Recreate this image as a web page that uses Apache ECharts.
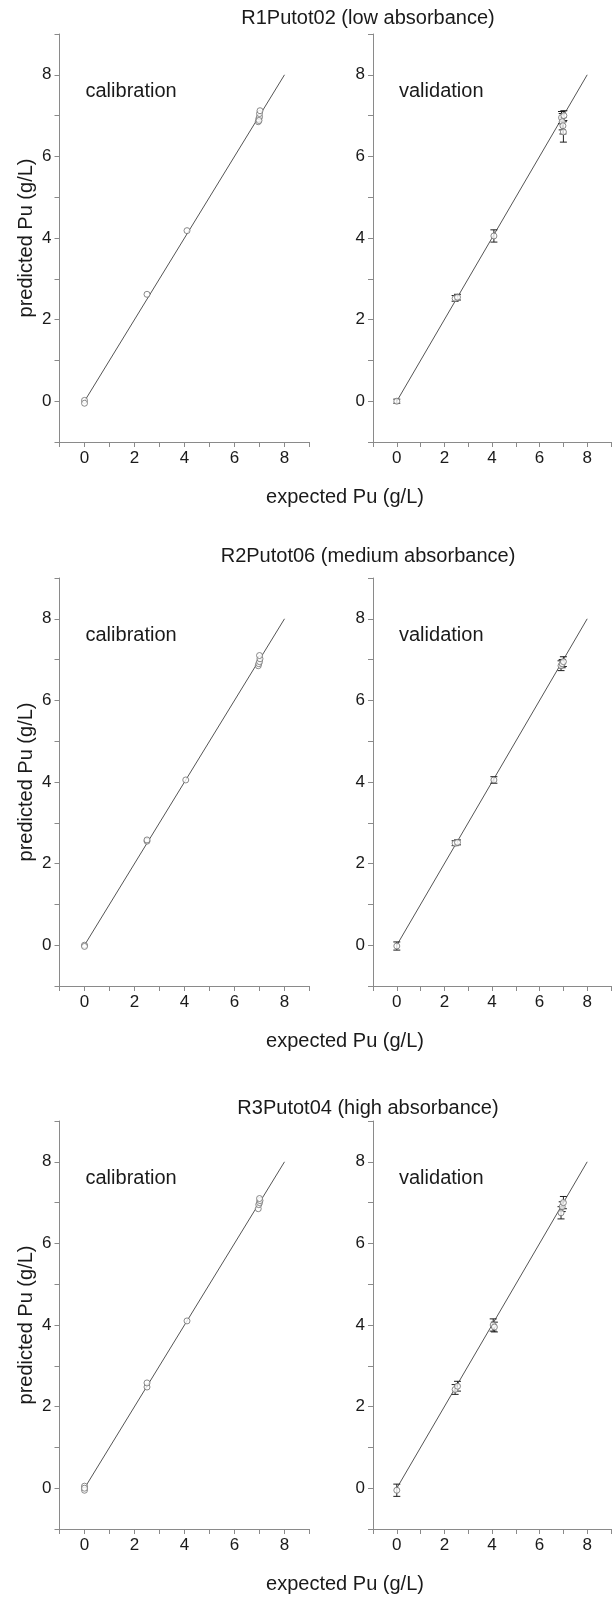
<!DOCTYPE html>
<html>
<head>
<meta charset="utf-8">
<script src="https://cdn.jsdelivr.net/npm/echarts@6/dist/echarts.min.js"></script>
<style>
  html, body { margin: 0; padding: 0; background: #fff; }
  #chart { width: 614px; height: 1597px; }
</style>
</head>
<body>
<div id="chart"></div>
<script>
// ---- text ----
const panelTitles = ['R1Putot02 (low absorbance)', 'R2Putot06 (medium absorbance)', 'R3Putot04 (high absorbance)'];
const panelLabels = ['calibration', 'validation'];
const xAxisTitle = 'expected Pu (g/L)';
const yAxisTitle = 'predicted Pu (g/L)';

// ---- axes ----
const axisMin = -1;
const axisMax = 9;
const axisStep = 1;
const identityLine = [[0, 0], [8, 8]];

// ---- R1Putot02 ----
const cal1X = [0, 0, 2.5, 4.1, 6.95, 6.97, 7.0, 7.0, 7.02, 6.98];
const cal1Y = [0.02, -0.05, 2.62, 4.18, 6.85, 6.92, 6.97, 7.05, 7.12, 6.88];
const val1X = [0, 2.45, 2.55, 4.08, 6.92, 6.95, 7.0, 6.98, 7.02];
const val1Y = [0.0, 2.52, 2.55, 4.05, 6.95, 6.85, 6.6, 6.75, 7.0];
const val1Err = [0.05, 0.07, 0.07, 0.15, 0.15, 0.2, 0.25, 0.2, 0.12];

// ---- R2Putot06 ----
const cal2X = [0, 0, 2.5, 2.5, 4.05, 6.95, 6.97, 7.0, 7.02, 7.0];
const cal2Y = [0.0, -0.03, 2.55, 2.58, 4.05, 6.85, 6.9, 6.95, 7.02, 7.1];
const val2X = [0, 2.45, 2.55, 4.08, 6.9, 6.95, 7.0];
const val2Y = [-0.02, 2.5, 2.52, 4.05, 6.85, 6.9, 6.95];
const val2Err = [0.1, 0.06, 0.06, 0.08, 0.12, 0.1, 0.12];

// ---- R3Putot04 ----
const cal3X = [0, 0, 0, 2.5, 2.5, 4.1, 6.95, 6.97, 7.0, 7.02, 7.0];
const cal3Y = [0.05, -0.05, 0.0, 2.48, 2.58, 4.1, 6.85, 6.95, 7.0, 7.05, 7.1];
const val3X = [0, 2.45, 2.55, 4.05, 4.1, 6.9, 6.95, 7.0];
const val3Y = [-0.05, 2.42, 2.5, 4.0, 3.95, 6.75, 6.9, 7.0];
const val3Err = [0.15, 0.12, 0.12, 0.15, 0.12, 0.15, 0.12, 0.15];

const calibration = [[cal1X, cal1Y], [cal2X, cal2Y], [cal3X, cal3Y]];
const validation = [[val1X, val1Y, val1Err], [val2X, val2Y, val2Err], [val3X, val3Y, val3Err]];

// ---- layout ----
const FONT = '"Liberation Sans", Arial, sans-serif';
const rowTop = [34, 578, 1121];
const rowTitleY = [18, 556, 1108];
const rowHeight = 408;
const colLeft = [59.5, 373];
const colWidth = 250;
const axisColor = '#8a8a8a';

const grids = [], xAxes = [], yAxes = [], series = [], graphics = [];

function pairs(xs, ys) { return xs.map((x, i) => [x, ys[i]]); }

function errorBarItem(params, api) {
  const x = api.value(0), y = api.value(1), e = api.value(2);
  const top = api.coord([x, y + e]);
  const bot = api.coord([x, y - e]);
  const w = 3.5;
  const st = { stroke: '#1e1e1e', lineWidth: 1 };
  return {
    type: 'group',
    children: [
      { type: 'line', shape: { x1: top[0], y1: top[1], x2: bot[0], y2: bot[1] }, style: st },
      { type: 'line', shape: { x1: top[0] - w, y1: top[1], x2: top[0] + w, y2: top[1] }, style: st },
      { type: 'line', shape: { x1: bot[0] - w, y1: bot[1], x2: bot[0] + w, y2: bot[1] }, style: st }
    ]
  };
}

const evenLabel = v => (Math.round(v) % 2 === 0 ? String(Math.round(v)) : '');

for (let r = 0; r < 3; r++) {
  for (let c = 0; c < 2; c++) {
    const k = r * 2 + c;
    grids.push({ left: colLeft[c], top: rowTop[r], width: colWidth, height: rowHeight, containLabel: false });
    const axisBase = {
      type: 'value', gridIndex: k, min: axisMin, max: axisMax, interval: axisStep,
      axisLine: { show: true, onZero: false, lineStyle: { color: axisColor, width: 1 } },
      axisTick: { show: true, length: 5, lineStyle: { color: axisColor, width: 1 } },
      axisLabel: { formatter: evenLabel, fontSize: 17, color: '#1a1a1a', fontFamily: FONT, margin: 8, showMinLabel: true, showMaxLabel: true },
      splitLine: { show: false }
    };
    xAxes.push(Object.assign({}, axisBase, { position: 'bottom' }));
    yAxes.push(Object.assign({}, axisBase, { position: 'left' }));

    // 1:1 reference line
    series.push({
      type: 'line', xAxisIndex: k, yAxisIndex: k, data: identityLine,
      symbol: 'none', silent: true, z: 1,
      lineStyle: { color: '#555', width: 1 }
    });

    if (c === 0) {
      const [xs, ys] = calibration[r];
      series.push({
        type: 'scatter', xAxisIndex: k, yAxisIndex: k, data: pairs(xs, ys),
        symbol: 'circle', symbolSize: 6, z: 3,
        itemStyle: { color: '#fff', borderColor: '#6e6e6e', borderWidth: 1 }
      });
    } else {
      const [xs, ys, es] = validation[r];
      series.push({
        type: 'custom', xAxisIndex: k, yAxisIndex: k,
        data: xs.map((x, i) => [x, ys[i], es[i]]),
        encode: { x: 0, y: 1 },
        renderItem: errorBarItem, z: 2
      });
      series.push({
        type: 'scatter', xAxisIndex: k, yAxisIndex: k, data: pairs(xs, ys),
        symbol: 'circle', symbolSize: 6, z: 3,
        itemStyle: { color: '#fff', borderColor: '#6e6e6e', borderWidth: 1 }
      });
    }

    // panel caption
    graphics.push({
      type: 'text', left: colLeft[c] + 26, top: rowTop[r] + 47,
      style: { text: panelLabels[c], font: '20px ' + FONT, fill: '#1a1a1a' }
    });
  }

  // row title
  graphics.push({
    type: 'text', x: 368, y: rowTitleY[r],
    style: { text: panelTitles[r], font: '20px ' + FONT, fill: '#1a1a1a', align: 'center', verticalAlign: 'middle' }
  });
  // shared x-axis title
  graphics.push({
    type: 'text', x: 345, y: rowTop[r] + rowHeight + 55,
    style: { text: xAxisTitle, font: '20px ' + FONT, fill: '#1a1a1a', align: 'center', verticalAlign: 'middle' }
  });
  // y-axis title
  graphics.push({
    type: 'text', x: 26, y: rowTop[r] + rowHeight / 2, rotation: Math.PI / 2,
    style: { text: yAxisTitle, font: '20px ' + FONT, fill: '#1a1a1a', align: 'center', verticalAlign: 'middle' }
  });
}

const chart = echarts.init(document.getElementById('chart'), null, { renderer: 'canvas' });
chart.setOption({
  animation: false,
  backgroundColor: '#fff',
  grid: grids,
  xAxis: xAxes,
  yAxis: yAxes,
  series: series,
  graphic: graphics
});
</script>
</body>
</html>
